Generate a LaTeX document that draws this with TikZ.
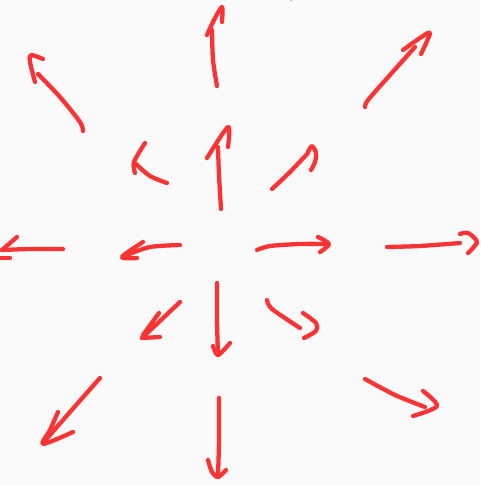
\documentclass[tikz,border=0pt]{standalone}
\begin{document}
\begin{tikzpicture}[x=1pt,y=-1pt]
\definecolor{inkred}{RGB}{250,52,52}
\definecolor{inkblue}{RGB}{170,190,255}
\tikzset{stroke/.style={draw=inkred,line width=4.3pt,line cap=round,line join=round}}
\useasboundingbox (0,0) rectangle (480,485);
\fill[white!98!black] (0,0) rectangle (480,485);
% top
\draw[stroke] plot[smooth] coordinates {(217,86) (213,60) (212,30)};
\draw[stroke] plot[smooth] coordinates {(207,35) (214,20) (222,7) (222,22)};
% upper left long
\draw[stroke] plot[smooth] coordinates {(83,131) (80,122) (60,97) (38,74)};
\draw[stroke] plot[smooth] coordinates {(35,82) (30,62) (31,55) (43,59)};
% small upper left
\draw[stroke] plot[smooth] coordinates {(167,183) (150,176) (136,164)};
\draw[stroke] plot[smooth] coordinates {(145,143) (134,162) (135,173)};
% centre up
\draw[stroke] plot[smooth] coordinates {(221,209) (219,175) (218,147)};
\draw[stroke] plot[smooth] coordinates {(207,158) (228,127) (228,147)};
% upper right long
\draw[stroke] plot[smooth] coordinates {(365,107) (368,100) (390,75) (415,47)};
\draw[stroke] plot[smooth] coordinates {(403,50) (420,38) (430,33) (421,54)};
% centre upper right
\draw[stroke] plot[smooth] coordinates {(272,189) (290,172) (308,153)};
\draw[stroke] plot[smooth] coordinates {(308,152) (312,146) (316,153) (315,162) (311,170)};
% far left
\draw[stroke] plot[smooth] coordinates {(63,249) (30,249) (2,250)};
\draw[stroke] (17,237) -- (2,250);
\draw[stroke] (0,258) -- (10,258);
% centre left
\draw[stroke] plot[smooth] coordinates {(180,245) (150,247) (127,255)};
\draw[stroke] plot[smooth] coordinates {(143,242) (122,257) (137,258)};
% lower centre left
\draw[stroke] (180,302) -- (142,338);
\draw[stroke] (159,313) -- (143,335);
\draw[stroke] (142,338) -- (160,337);
% centre down
\draw[stroke] plot[smooth] coordinates {(217,283) (217,320) (218,355)};
\draw[stroke] plot[smooth] coordinates {(213,346) (218,355) (230,343)};
% lower left long
\draw[stroke] plot[smooth] coordinates {(100,378) (70,412) (43,443)};
\draw[stroke] plot[smooth] coordinates {(58,412) (50,430) (43,444) (73,432)};
% bottom
\draw[stroke] plot[smooth] coordinates {(219,398) (219,440) (218,477)};
\draw[stroke] plot[smooth] coordinates {(208,460) (212,472) (218,477) (226,470)};
% centre right
\draw[stroke] plot[smooth] coordinates {(257,250) (270,246) (300,244) (325,244)};
\draw[stroke] plot[smooth] coordinates {(318,237) (329,244) (320,252)};
% far right
\draw[stroke] plot[smooth] coordinates {(387,247) (420,246) (460,243)};
\draw[stroke] plot[smooth] coordinates {(460,234) (468,233) (477,242) (468,253)};
% lower centre right
\draw[stroke] plot[smooth] coordinates {(267,300) (272,309) (300,328)};
\draw[stroke] plot[smooth] coordinates {(303,313) (316,323) (316,331) (304,338)};
% lower right long
\draw[stroke] plot[smooth] coordinates {(365,379) (395,395) (425,407)};
\draw[stroke] plot[smooth] coordinates {(423,391) (437,406) (413,416)};
% small blue mark at top
\fill[inkblue] (291,0) circle (1.5pt);
\end{tikzpicture}
\end{document}
